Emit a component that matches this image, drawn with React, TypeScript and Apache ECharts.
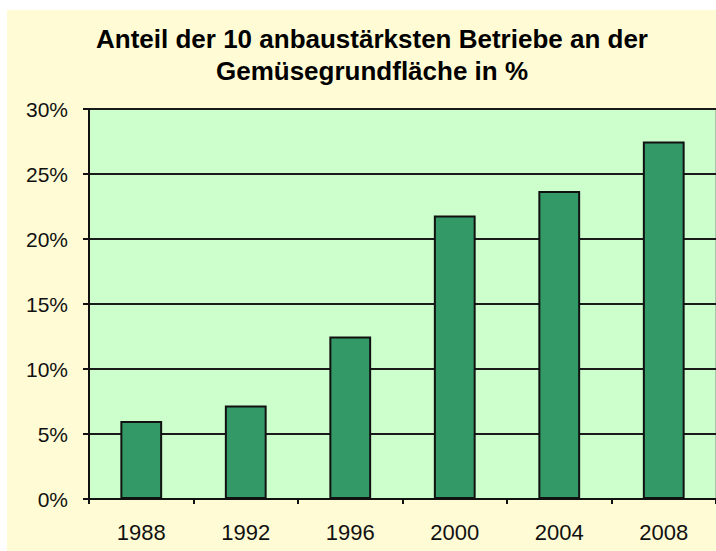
import React, { useEffect, useRef } from "react";
import * as echarts from "echarts";

const titleText = "Anteil der 10 anbaustärksten Betriebe an der\nGemüsegrundfläche in %";
const years = ["1988", "1992", "1996", "2000", "2004", "2008"];
const shares = [6.0, 7.2, 12.5, 21.8, 23.7, 27.5];

export default function App() {
  const ref = useRef<HTMLDivElement>(null);
  useEffect(() => {
    if (!ref.current) return;
    const chart = echarts.init(ref.current, undefined, { renderer: "svg" });
    chart.setOption({
      animation: false,
      backgroundColor: "#FFFCD5",
      title: {
        text: titleText,
        left: 360,
        top: 8,
        textAlign: "center",
        textStyle: {
          fontFamily: "Liberation Sans, Arial, sans-serif",
          fontSize: 26,
          fontWeight: "bold",
          color: "#000",
          lineHeight: 32,
        },
      },
      grid: {
        left: 82,
        top: 99,
        width: 634,
        height: 390,
        show: true,
        backgroundColor: "#CCFFCC",
        borderColor: "#8a8a8a",
        borderWidth: 1,
      },
      xAxis: {
        type: "category",
        data: years,
        boundaryGap: true,
        axisLine: { show: true, lineStyle: { color: "#111", width: 2 } },
        axisTick: { show: true, length: 5, lineStyle: { color: "#111", width: 2 } },
        axisLabel: {
          margin: 22,
          fontFamily: "Liberation Sans, Arial, sans-serif",
          fontSize: 22,
          color: "#111",
        },
        splitLine: { show: false },
      },
      yAxis: {
        type: "value",
        min: 0,
        max: 30,
        interval: 5,
        axisLine: { show: true, lineStyle: { color: "#111", width: 2 } },
        axisTick: { show: true, length: 6, lineStyle: { color: "#111", width: 2 } },
        axisLabel: {
          formatter: "{value}%",
          margin: 21,
          fontFamily: "Liberation Sans, Arial, sans-serif",
          fontSize: 21,
          color: "#111",
        },
        splitLine: { show: true, lineStyle: { color: "#1a1a1a", width: 2 } },
      },
      series: [
        {
          type: "bar",
          data: shares,
          barWidth: "40%",
          itemStyle: { color: "#339966", borderColor: "#111", borderWidth: 2 },
        },
      ],
    });
    return () => chart.dispose();
  }, []);
  return (
    <div style={{ position: "absolute", left: 0, top: 0, width: 716, height: 551, background: "#fff", overflow: "hidden" }}>
      <div ref={ref} style={{ position: "absolute", left: 7, top: 10, width: 709, height: 541 }} />
    </div>
  );
}
